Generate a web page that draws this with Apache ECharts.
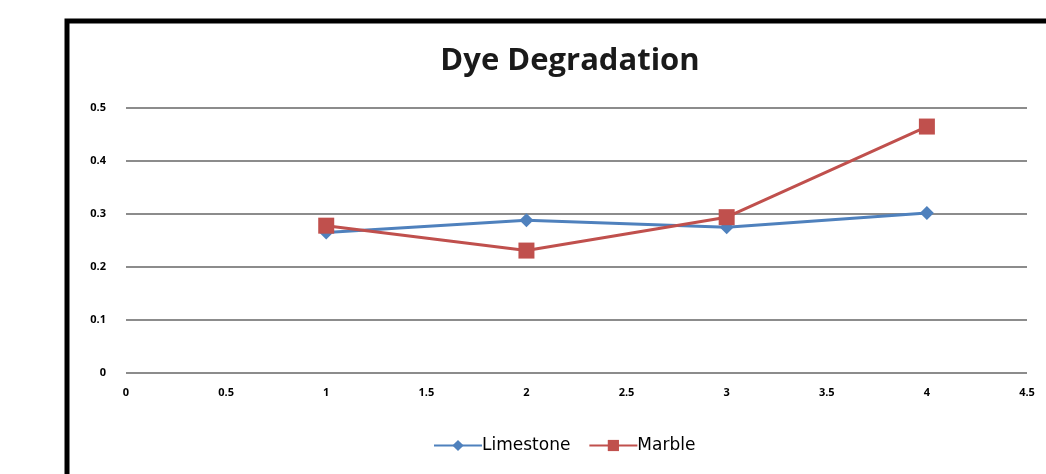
<!DOCTYPE html>
<html>
<head>
<meta charset="utf-8">
<script src="https://cdn.jsdelivr.net/npm/echarts@6/dist/echarts.min.js"></script>
<style>
html,body{margin:0;padding:0;background:#fff;}
#chart{width:1046px;height:474px;}
</style>
</head>
<body>
<div id="chart"></div>
<script>
const xValues = [1, 2, 3, 4];
const limestone = [0.265, 0.288, 0.275, 0.302];
const marble = [0.278, 0.231, 0.294, 0.465];
const seriesNames = ['Limestone', 'Marble'];
const titleText = 'Dye Degradation';

const chart = echarts.init(document.getElementById('chart'));
const labelStyle = { color: '#000', fontFamily: 'Open Sans', fontWeight: 'bold', fontSize: 11 };
chart.setOption({
  animation: false,
  backgroundColor: '#fff',
  graphic: [{
    type: 'rect', shape: { x: 67, y: 21, width: 1100, height: 600 },
    style: { fill: 'none', stroke: '#000', lineWidth: 5 }, z: 100
  }],
  title: {
    text: titleText, left: 565, top: 41, textAlign: 'center',
    textStyle: { fontFamily: 'Open Sans', fontWeight: 'bold', fontSize: 31, color: '#1a1a1a' }
  },
  legend: {
    bottom: 15, left: 428, itemGap: 18, itemWidth: 48, itemHeight: 14,
    textStyle: { fontFamily: 'DejaVu Sans', fontSize: 17, color: '#000', padding: [0, 0, 0, -5] },
    data: seriesNames
  },
  grid: { left: 126, right: 19, top: 108, bottom: 101, containLabel: false },
  xAxis: {
    type: 'value', min: 0, max: 4.5, interval: 0.5,
    axisLine: { show: false }, axisTick: { show: false },
    splitLine: { show: false },
    axisLabel: Object.assign({ margin: 14 }, labelStyle)
  },
  yAxis: {
    type: 'value', min: 0, max: 0.5, interval: 0.1,
    axisLine: { show: false }, axisTick: { show: false },
    splitLine: { show: true, lineStyle: { color: '#8c8c8c', width: 2 } },
    axisLabel: Object.assign({ margin: 20 }, labelStyle)
  },
  series: [
    {
      name: seriesNames[0], type: 'line',
      data: xValues.map((x, i) => [x, limestone[i]]),
      symbol: 'diamond', symbolSize: 14,
      lineStyle: { color: '#4F81BD', width: 3 },
      itemStyle: { color: '#4F81BD' }
    },
    {
      name: seriesNames[1], type: 'line',
      data: xValues.map((x, i) => [x, marble[i]]),
      symbol: 'rect', symbolSize: 16,
      lineStyle: { color: '#C0504D', width: 3 },
      itemStyle: { color: '#C0504D' }
    }
  ]
});
</script>
</body>
</html>
